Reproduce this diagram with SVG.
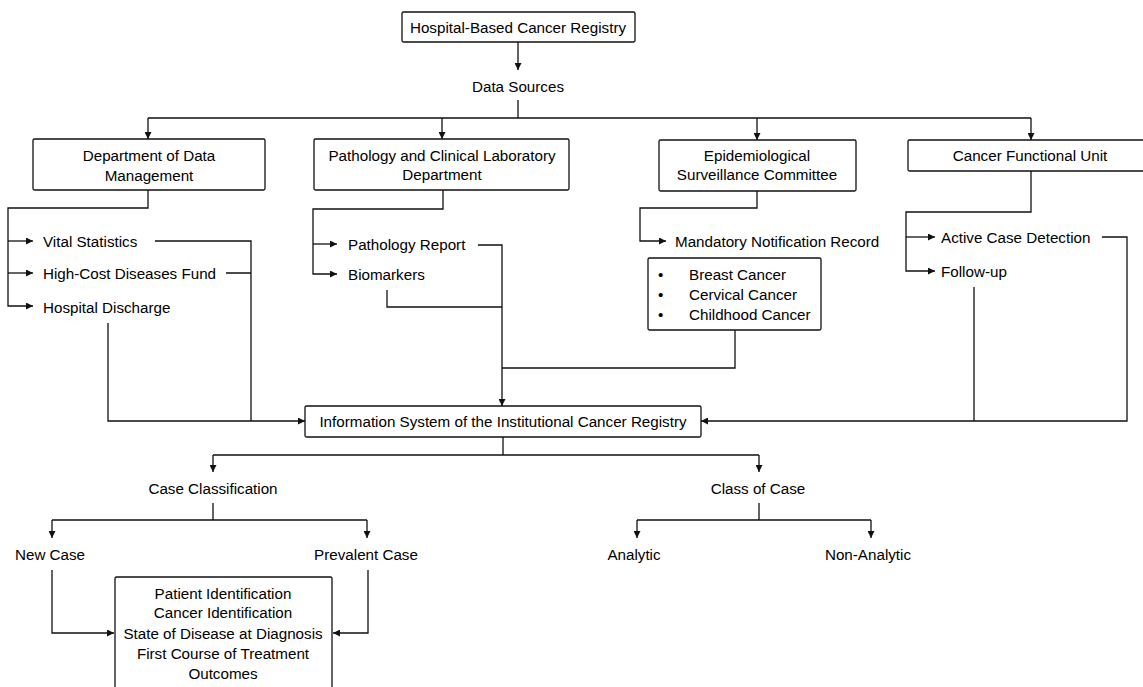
<svg xmlns="http://www.w3.org/2000/svg" width="1143" height="687" viewBox="0 0 1143 687">
<style>
  .box{fill:#fff;stroke:#111;stroke-width:1.3}
  .t{font-family:"Liberation Sans",Arial,sans-serif;font-size:15.2px;fill:#000;dominant-baseline:central}
  .c{text-anchor:middle}
  .ln{fill:none;stroke:#111;stroke-width:1.3}
  .ar{fill:none;stroke:#111;stroke-width:1.3;marker-end:url(#ah)}
</style>
<defs>
  <marker id="ah" viewBox="0 0 10 10" refX="10" refY="5" markerWidth="7" markerHeight="7" markerUnits="userSpaceOnUse" orient="auto">
    <path d="M0,0 L10,5 L0,10 z" fill="#111"/>
  </marker>
</defs>
<rect width="1143" height="687" fill="#fff"/>

<g id="connectors">
  <path class="ar" d="M518,42 V70"/>
  <path class="ln" d="M518,100 V118 M148,118 H1031"/>
  <path class="ar" d="M148,118 V139"/>
  <path class="ar" d="M442,118 V139"/>
  <path class="ar" d="M757,118 V140"/>
  <path class="ar" d="M1031,118 V140"/>

  <path class="ar" d="M148,190 V208 H8 V306 H33"/>
  <path class="ar" d="M8,241 H33"/>
  <path class="ar" d="M8,273 H33"/>
  <path class="ln" d="M155,241 H251 V421 M226,273 H251"/>
  <path class="ar" d="M108,323 V421 H305"/>

  <path class="ar" d="M443,190 V209 H313 V274 H337"/>
  <path class="ar" d="M313,244 H337"/>
  <path class="ar" d="M478,245 H502 V406"/>
  <path class="ln" d="M387,290 V307 H502"/>

  <path class="ar" d="M757,191 V208 H640 V241 H666"/>
  <path class="ln" d="M735,330 V368 H502"/>

  <path class="ar" d="M1031,171 V212 H906 V271 H935"/>
  <path class="ar" d="M906,237 H935"/>
  <path class="ar" d="M1102,237 H1127 V421 H701"/>
  <path class="ln" d="M974,287 V421"/>

  <path class="ln" d="M503,437 V455 M213,455 H759"/>
  <path class="ar" d="M213,455 V472"/>
  <path class="ar" d="M759,455 V472"/>

  <path class="ln" d="M213,503 V520 M52,520 H367"/>
  <path class="ar" d="M52,520 V538"/>
  <path class="ar" d="M367,520 V538"/>
  <path class="ar" d="M52,570 V633 H114"/>
  <path class="ar" d="M368,570 V633 H333"/>

  <path class="ln" d="M759,503 V520 M637,520 H871"/>
  <path class="ar" d="M637,520 V538"/>
  <path class="ar" d="M871,520 V538"/>
</g>

<g id="hbcr"><rect class="box" x="402" y="12" width="233" height="30" rx="1.5"/><text class="t c" x="518" y="27">Hospital-Based Cancer Registry</text></g>
<g id="data-sources"><text class="t c" x="518" y="86">Data Sources</text></g>

<g id="dept-data"><rect class="box" x="33" y="139" width="232" height="51" rx="1.5"/>
  <text class="t c" x="149" y="155">Department of Data</text><text class="t c" x="149" y="175">Management</text></g>
<g id="pathology-dept"><rect class="box" x="314" y="139" width="255" height="51" rx="1.5"/>
  <text class="t c" x="442" y="155">Pathology and Clinical Laboratory</text><text class="t c" x="442" y="174">Department</text></g>
<g id="epi-committee"><rect class="box" x="659" y="140" width="197" height="51" rx="1.5"/>
  <text class="t c" x="757" y="155">Epidemiological</text><text class="t c" x="757" y="174">Surveillance Committee</text></g>
<g id="cfu"><rect class="box" x="908" y="140" width="240" height="31" rx="1.5"/>
  <text class="t c" x="1030" y="155">Cancer Functional Unit</text></g>

<g id="vital"><text class="t" x="43" y="241">Vital Statistics</text></g>
<g id="highcost"><text class="t" x="43" y="273">High-Cost Diseases Fund</text></g>
<g id="discharge"><text class="t" x="43" y="307">Hospital Discharge</text></g>

<g id="path-report"><text class="t" x="348" y="244">Pathology Report</text></g>
<g id="biomarkers"><text class="t" x="348" y="274">Biomarkers</text></g>

<g id="mandatory"><text class="t" x="675" y="241">Mandatory Notification Record</text></g>
<g id="cancers"><rect class="box" x="648" y="258" width="173" height="72" rx="1.5"/>
  <text class="t" x="658" y="274">•</text><text class="t" x="689" y="274">Breast Cancer</text>
  <text class="t" x="658" y="294">•</text><text class="t" x="689" y="294">Cervical Cancer</text>
  <text class="t" x="658" y="314">•</text><text class="t" x="689" y="314">Childhood Cancer</text></g>

<g id="active"><text class="t" x="941" y="237">Active Case Detection</text></g>
<g id="followup"><text class="t" x="941" y="271">Follow-up</text></g>

<g id="info-system"><rect class="box" x="305" y="406" width="396" height="31" rx="1.5"/>
  <text class="t c" x="503" y="421">Information System of the Institutional Cancer Registry</text></g>

<g id="case-class"><text class="t c" x="213" y="488">Case Classification</text></g>
<g id="class-of-case"><text class="t c" x="758" y="488">Class of Case</text></g>
<g id="new-case"><text class="t c" x="50" y="554">New Case</text></g>
<g id="prevalent"><text class="t c" x="366" y="554">Prevalent Case</text></g>
<g id="analytic"><text class="t c" x="634" y="554">Analytic</text></g>
<g id="non-analytic"><text class="t c" x="868" y="554">Non-Analytic</text></g>

<g id="items"><rect class="box" x="115" y="577" width="217" height="130" rx="1.5"/>
  <text class="t c" x="223" y="593">Patient Identification</text>
  <text class="t c" x="223" y="612">Cancer Identification</text>
  <text class="t c" x="223" y="633">State of Disease at Diagnosis</text>
  <text class="t c" x="223" y="653">First Course of Treatment</text>
  <text class="t c" x="223" y="673">Outcomes</text></g>
</svg>
